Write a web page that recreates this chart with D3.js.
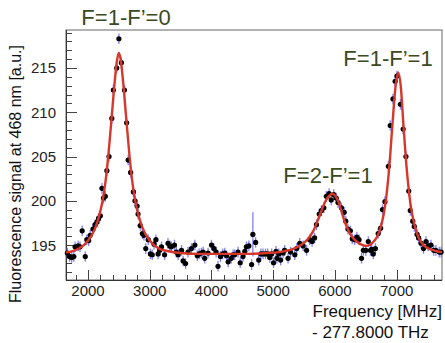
<!DOCTYPE html>
<html><head><meta charset="utf-8">
<script src="https://cdn.jsdelivr.net/npm/d3@7"></script>
<style>body{margin:0;background:#fff;}svg{display:block;font-family:"Liberation Sans",Arial,sans-serif;}</style>
</head><body><svg id="c" width="445" height="343"></svg>
<script>
// measured points: frequency [MHz] (offset from 277.8000 THz) and signal
const freq = [1665,1700,1735,1770,1790,1840,1870,1905,1955,1980,2010,2035,2080,2115,2145,2170,2200,2225,2250,2280,2305,2340,2385,2410,2465,2500,2540,2590,2625,2650,2690,2735,2760,2795,2810,2845,2880,2905,2935,2975,3010,3040,3070,3100,3135,3160,3190,3240,3295,3325,3350,3400,3430,3460,3515,3540,3580,3620,3675,3730,3770,3800,3835,3865,3890,3945,4000,4040,4075,4105,4145,4180,4215,4245,4270,4320,4350,4375,4430,4465,4510,4540,4565,4605,4650,4670,4715,4765,4800,4835,4875,4910,4945,4975,5005,5045,5060,5090,5120,5160,5185,5240,5280,5350,5380,5430,5485,5540,5590,5630,5670,5700,5745,5780,5820,5860,5905,5940,5980,6020,6050,6105,6150,6175,6210,6250,6280,6320,6355,6390,6430,6460,6500,6540,6575,6595,6620,6655,6700,6740,6770,6810,6865,6895,6940,6975,7005,7060,7105,7150,7195,7220,7260,7285,7330,7355,7395,7435,7475,7510,7555,7600,7635,7690,7720];
const signal = [194.1,193.7,193.6,193.7,194.8,194.9,194.8,196.6,193.7,195.6,195.5,196.1,196.8,197.3,197.6,198.0,198.3,201.4,200.3,200.5,203.4,205.0,209.3,212.5,215.0,218.3,215.6,212.5,208.8,204.6,203.2,201.0,200.0,199.4,198.5,197.2,196.3,196.1,194.6,195.6,194.0,193.9,195.1,195.6,194.0,194.4,194.8,193.9,195.2,194.9,194.8,195.0,194.2,193.9,194.4,193.2,192.9,194.2,194.6,195.0,193.8,194.0,194.1,194.2,193.5,194.1,195.0,194.6,194.2,192.6,193.7,194.0,194.1,193.8,193.1,193.5,193.9,193.9,194.2,193.0,193.7,194.3,194.8,194.9,192.8,196.2,195.3,193.3,194.0,194.0,194.0,194.0,193.6,194.0,193.0,194.3,193.5,194.0,193.3,194.1,194.4,193.5,194.2,193.9,194.6,195.2,194.9,194.4,195.6,195.4,195.8,197.3,198.5,198.9,199.2,200.5,200.8,200.1,200.7,200.3,199.8,199.2,198.7,197.7,196.8,196.6,195.7,195.6,195.9,195.6,193.5,194.4,194.4,195.4,194.4,194.5,194.0,194.6,196.3,196.9,199.0,199.9,203.9,208.5,211.5,213.5,214.1,210.9,208.1,205.0,201.1,198.9,197.7,197.1,196.2,195.8,195.2,194.6,195.4,194.9,195.0,194.4,194.4,194.2,194.2];
const errDefault = 0.6;
const errOverride = {4670: 2.5};
// fitted curve
const fitFreq = [1645,1750,1850,1950,2050,2120,2180,2230,2280,2330,2380,2430,2470,2500,2530,2570,2620,2670,2720,2770,2820,2880,2950,3050,3150,3300,3500,3800,4200,4600,4900,5100,5300,5450,5550,5650,5750,5850,5960,6050,6150,6250,6350,6450,6520,6600,6680,6750,6820,6880,6930,6980,7025,7065,7110,7160,7220,7290,7370,7450,7550,7650,7734];
const fitVal = [194.15,194.3,194.6,195.1,196.0,197.0,198.3,199.8,202.0,205.2,209.2,213.3,215.9,216.7,215.9,213.3,209.2,205.2,202.0,199.8,198.3,197.0,196.0,195.1,194.6,194.3,194.1,194.0,194.0,194.0,194.1,194.2,194.5,195.0,195.6,196.6,198.3,200.0,200.8,200.0,197.8,196.2,195.4,195.0,194.9,195.2,195.9,197.2,199.8,203.8,208.5,212.8,214.5,213.0,208.5,203.8,199.8,197.2,195.6,194.9,194.5,194.3,194.2];
const yTicks = [195,200,205,210,215];
const xTicks = [2000,3000,4000,5000,6000,7000];
const peakLabels = ["F=1-F\u2019=0","F=2-F\u2019=1","F=1-F\u2019=1"];

const L=66,R=442,T=30,B=280;
const svg=d3.select("#c");
const x=d3.scaleLinear().domain([1643,7734]).range([L,R]);
const y=d3.scaleLinear().domain([191.05,219.29]).range([B,T]);

// frame
svg.append("rect").attr("x",L).attr("y",T).attr("width",R-L).attr("height",B-T)
  .attr("fill","none").attr("stroke","#666").attr("stroke-width",1);

// y axis ticks (inside)
const yMinor=d3.range(192,220,1);
const gy=svg.append("g");
gy.selectAll("line.mi").data(yMinor).join("line")
  .attr("x1",L).attr("x2",d=>yTicks.includes(d)?L+11:L+6)
  .attr("y1",d=>Math.round(y(d))+0.5).attr("y2",d=>Math.round(y(d))+0.5)
  .attr("stroke","#444").attr("stroke-width",1);
gy.selectAll("text").data(yTicks).join("text")
  .attr("x",L-10).attr("y",d=>y(d)+5.5).attr("text-anchor","end")
  .attr("font-size",15).attr("fill","#222").text(d=>d);
// x axis ticks
const xMinor=d3.range(1800,7800,200);
const gx=svg.append("g");
gx.selectAll("line").data(xMinor).join("line")
  .attr("x1",d=>Math.round(x(d))+0.5).attr("x2",d=>Math.round(x(d))+0.5)
  .attr("y1",B).attr("y2",d=>xTicks.includes(d)?B-10:B-5)
  .attr("stroke","#444").attr("stroke-width",1);
gx.selectAll("text").data(xTicks).join("text")
  .attr("x",d=>x(d)).attr("y",B+16).attr("text-anchor","middle")
  .attr("font-size",15).attr("fill","#222").text(d=>d);
svg.append("line").attr("x1",L+0.5).attr("x2",L+0.5).attr("y1",T).attr("y2",B).attr("stroke","#333");
svg.append("line").attr("x1",L).attr("x2",R).attr("y1",B+0.5).attr("y2",B+0.5).attr("stroke","#333");

// data
const pts=freq.map((f,i)=>({f,v:signal[i],e:errOverride[f]!==undefined?errOverride[f]:errDefault}));
const gp=svg.append("g");
gp.selectAll("line").data(pts).join("line")
  .attr("x1",d=>x(d.f)).attr("x2",d=>x(d.f))
  .attr("y1",d=>y(d.v-d.e)).attr("y2",d=>y(d.v+d.e))
  .attr("stroke","#6a6aff").attr("stroke-opacity",0.85).attr("stroke-width",1.3);
// fit curve
const line=d3.line().x((d,i)=>x(fitFreq[i])).y(d=>y(d)).curve(d3.curveMonotoneX);
svg.append("path").attr("d",line(fitVal)).attr("fill","none")
  .attr("stroke","#d6372a").attr("stroke-width",2.4);
gp.selectAll("circle").data(pts).join("circle")
  .attr("cx",d=>x(d.f)).attr("cy",d=>y(d.v)).attr("r",2.6).attr("fill","#000");

// peak labels
const lab=[[126,25],[328,183],[388,66]];
svg.selectAll("text.pk").data(peakLabels).join("text").attr("class","pk")
  .attr("x",(d,i)=>lab[i][0]).attr("y",(d,i)=>lab[i][1]).attr("text-anchor","middle")
  .attr("font-size",22).attr("fill","#3a4a22").text(d=>d);

// axis titles
svg.append("text").attr("transform","translate(21,174) rotate(-90)").attr("text-anchor","middle")
  .attr("font-size",16).attr("fill","#111").text("Fluorescence signal at 468 nm [a.u.]");
svg.append("text").attr("x",442).attr("y",317).attr("text-anchor","end")
  .attr("font-size",17).attr("fill","#111").text("Frequency [MHz]");
svg.append("text").attr("x",312).attr("y",338).attr("text-anchor","start")
  .attr("font-size",17).attr("fill","#111").text("- 277.8000 THz");
</script></body></html>
